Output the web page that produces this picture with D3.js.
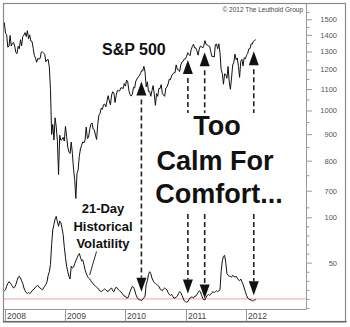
<!DOCTYPE html>
<html><head><meta charset="utf-8">
<script src="https://cdn.jsdelivr.net/npm/d3@7"></script>
<style>
html,body{margin:0;padding:0;background:#fff;}
svg{display:block;font-family:"Liberation Sans",Arial,sans-serif;}
</style></head>
<body>
<svg id="chart" width="350" height="327"></svg>
<script>
// S&P 500 weekly closes (Friday), grouped by year; first Friday of each block below
const spxStarts = ["2007-12-28","2008-01-04","2009-01-02","2010-01-01","2011-01-07","2012-01-06"];
const spx2007 = [1478];
const spx2008 = [1411,1401,1325,1331,1396,1332,1349,1353,1331,1294,1288,1330,1316,1370,1333,1390,1398,1414,1389,1426,1375,1400,1361,1360,1318,1278,1262,1239,1261,1257,1260,1296,1298,1292,1283,1242,1252,1255,1213,1099,899,940,877,968,930,873,752,896,876,879,887,873];
const spx2009 = [932,890,850,832,826,869,827,770,735,676,756,768,816,843,857,870,866,877,929,883,887,919,940,946,921,918,896,879,940,979,987,1010,1005,1026,1029,1016,1042,1068,1044,1025,1071,1087,1080,1036,1069,1093,1091,1091,1106,1106,1102,1127];
const spx2010 = [1115,1145,1136,1092,1074,1066,1075,1109,1105,1139,1150,1160,1167,1179,1194,1192,1217,1187,1111,1136,1088,1089,1065,1092,1117,1076,1023,1078,1065,1103,1102,1122,1079,1071,1065,1105,1110,1125,1149,1146,1166,1176,1183,1183,1225,1199,1199,1189,1225,1240,1244,1257,1258];
const spx2011 = [1272,1293,1283,1276,1310,1329,1343,1320,1321,1304,1279,1314,1332,1328,1320,1337,1364,1340,1338,1333,1331,1300,1271,1272,1268,1340,1344,1316,1345,1292,1199,1179,1124,1177,1174,1154,1216,1136,1099,1155,1224,1238,1285,1253,1263,1216,1159,1244,1255,1219,1265,1258];
const spx2012 = [1278,1289,1315,1316,1345,1343,1361,1366,1370];

// 21-day historical volatility (annualised %), same weekly dates
const vol2007 = [19];
const vol2008 = [20,24,27,29,28,26,24,22,23,26,30,34,35,33,30,27,22,19,17,16,17,16,17,19,20,21,23,24,25,23,22,21,20,22,24,26,29,36,40,48,70,86,92,98,101,95,90,96,94,88,81,67];
const vol2009 = [56,46,40,35,32,46,44,45,49,52,55,58,60,56,52,53,48,42,38,35,33,32,30,28,27,25,24,23,22,20,19,18,19,20,21,20,19,18,20,21,22,19,18,21,23,22,20,19,18,16,15,13];
const vol2010 = [13,11,11,14,18,21,24,23,20,15,12,10,9,9,8,10,11,13,26,30,37,40,38,33,30,28,27,26,25,24,21,20,19,21,22,21,20,17,15,14,15,13,11,11,12,13,16,18,17,14,11,8,7];
const vol2011 = [6.5,7,9,11,12,12,11,13,13,15,17,19,18,14,11,9,9,12,14,15,14,15,17,18,17,18,19,18,19,20,40,52,57,58,50,38,36,35,35,34,36,35,34,35,33,31,30,32,29,26,22,18];
const vol2012 = [14,11,10,9,9,8,8,9,9];

// axis ticks
const yearLabels = ["2008","2009","2010","2011","2012"];
const spxMajorTicks = [700,800,900,1000,1100,1200,1300,1400,1500];
const spxMinorTicks = [650,750,850,950,1050,1150,1250,1350,1450,1550];
const volMajorTicks = [50,100];
const volMinorTicks = [0,10,20,30,40,60,70,80,90];
const calmLevel = 10;

// arrow annotations: date, S&P level at the upper tip, volatility at the lower tip
const arrowDates = ["2010-04-08","2011-01-15","2011-04-27","2012-02-19"];
const arrowSpx = [1137,1252,1295,1301];
const arrowVol = [18,16,10.5,14];

const parse = d3.utcParse("%Y-%m-%d");
function weekly(start, values) {
  const s = parse(start);
  return values.map((v, i) => ({date: d3.utcDay.offset(s, 7 * i), value: v}));
}
const spxBlocks = [spx2007, spx2008, spx2009, spx2010, spx2011, spx2012];
const volBlocks = [vol2007, vol2008, vol2009, vol2010, vol2011, vol2012];
const spx = spxBlocks.flatMap((b, i) => weekly(spxStarts[i], b));
const vol = volBlocks.flatMap((b, i) => weekly(spxStarts[i], b));

const svg = d3.select("#chart");
const L = 4, R = 306, T = 4, B = 309, FB = 321.5;

const x = d3.scaleUtc()
  .domain([Date.UTC(2008, 0, 1), Date.UTC(2013, 0, 1)])
  .range([5, R]);
const ySpx = d3.scaleLog().domain([700, 1500]).range([190.7, 19.3]);
const yVol = d3.scaleLinear().domain([0, 100]).range([308, 217.3]);

// outer frame
svg.append("rect").attr("x", 3.5).attr("y", 3.5).attr("width", 342).attr("height", 318)
  .attr("fill", "#fff").attr("stroke", "#8a8a8a").attr("stroke-width", 1.2);
svg.append("line").attr("x1", 3).attr("x2", 346.5).attr("y1", 321.8).attr("y2", 321.8)
  .attr("stroke", "#666").attr("stroke-width", 1.6);

// plot bottom edge and year strip
svg.append("line").attr("x1", L).attr("x2", R).attr("y1", B + 0.5).attr("y2", B + 0.5)
  .attr("stroke", "#999").attr("stroke-width", 1);
const yearG = svg.append("g");
yearLabels.forEach(lbl => {
  const xx = Math.round(x(Date.UTC(+lbl, 0, 1))) + 0.5;
  yearG.append("line").attr("x1", xx).attr("x2", xx).attr("y1", B).attr("y2", FB)
    .attr("stroke", "#999").attr("stroke-width", 1);
  yearG.append("text").attr("x", xx + 1.5).attr("y", 319).text(lbl)
    .attr("font-size", 8.5).attr("fill", "#444");
});

// right axis
svg.append("line").attr("x1", R + 0.5).attr("x2", R + 0.5).attr("y1", T).attr("y2", B + 0.5)
  .attr("stroke", "#999").attr("stroke-width", 1);
function styleAxis(g, labelled) {
  g.select(".domain").remove();
  g.selectAll(".tick line").attr("stroke", "#999");
  if (labelled) {
    g.selectAll(".tick text").attr("x", 31).attr("text-anchor", "end")
      .attr("font-size", 7.5).attr("fill", "#555").attr("font-family", "Liberation Sans, Arial, sans-serif");
  } else {
    g.selectAll(".tick text").remove();
  }
}
svg.append("g").attr("transform", `translate(${R},0)`)
  .call(d3.axisRight(ySpx).tickValues(spxMajorTicks).tickSize(6).tickFormat(d3.format("d")))
  .call(g => styleAxis(g, true));
svg.append("g").attr("transform", `translate(${R},0)`)
  .call(d3.axisRight(ySpx).tickValues(spxMinorTicks).tickSize(3.5))
  .call(g => styleAxis(g, false));
svg.append("g").attr("transform", `translate(${R},0)`)
  .call(d3.axisRight(yVol).tickValues(volMajorTicks).tickSize(6).tickFormat(d3.format("d")))
  .call(g => styleAxis(g, true));
svg.append("g").attr("transform", `translate(${R},0)`)
  .call(d3.axisRight(yVol).tickValues(volMinorTicks).tickSize(3.5))
  .call(g => styleAxis(g, false));

// calm threshold
svg.append("line").attr("x1", L).attr("x2", R).attr("y1", yVol(calmLevel)).attr("y2", yVol(calmLevel))
  .attr("stroke", "#f2a3a3").attr("stroke-width", 1);

// series
const lineSpx = d3.line().x(d => x(d.date)).y(d => ySpx(d.value));
const lineVol = d3.line().x(d => x(d.date)).y(d => yVol(d.value));
svg.append("path").datum(spx).attr("d", lineSpx)
  .attr("fill", "none").attr("stroke", "#111").attr("stroke-width", 1).attr("stroke-linejoin", "round");
svg.append("path").datum(vol).attr("d", lineVol)
  .attr("fill", "none").attr("stroke", "#111").attr("stroke-width", 1).attr("stroke-linejoin", "round");

// titles
svg.append("text").attr("x", 102).attr("y", 55).text("S&P 500")
  .attr("font-size", 16).attr("font-weight", "bold").attr("fill", "#111");
svg.append("text").attr("x", 303).attr("y", 12).attr("text-anchor", "end").text("\u00a9 2012 The Leuthold Group")
  .attr("font-size", 6.5).attr("fill", "#444");

const volLabel = svg.append("text").attr("font-size", 13).attr("font-weight", "bold")
  .attr("fill", "#111").attr("text-anchor", "middle");
[["21-Day", 213], ["Historical", 231], ["Volatility", 248]].forEach(([t, yy]) =>
  volLabel.append("tspan").attr("x", 103).attr("y", yy).text(t));
const ptr = vol.find(d => +d.date >= Date.UTC(2009, 4, 29));
svg.append("line").attr("x1", 96.5).attr("y1", 251.5)
  .attr("x2", x(ptr.date)).attr("y2", yVol(ptr.value) - 4)
  .attr("stroke", "#111").attr("stroke-width", 0.9);

const calm = svg.append("g").attr("font-size", 27).attr("font-weight", "bold")
  .attr("fill", "#111").attr("text-anchor", "middle");
const calmLines = [["Too", 217, 135], ["Calm For", 215, 170], ["Comfort...", 219, 203]];
calmLines.forEach(([t, xx, yy]) => calm.append("text").attr("x", xx).attr("y", yy).text(t));
const cb = calm.node().getBBox();

// arrows: upward onto the S&P line, downward onto the volatility line
const AH = 14, AW = 5;
arrowDates.forEach((ds, i) => {
  const xx = x(parse(ds));
  const tTop = ySpx(arrowSpx[i]);
  const tBot = yVol(arrowVol[i]);
  svg.append("path").attr("d", `M${xx},${tTop}L${xx - AW},${tTop + AH}L${xx + AW},${tTop + AH}Z`).attr("fill", "#111");
  svg.append("path").attr("d", `M${xx},${tBot}L${xx - AW},${tBot - AH}L${xx + AW},${tBot - AH}Z`).attr("fill", "#111");
  const y0 = tTop + AH + 4, y1 = tBot - AH;
  let segs = [[y0, y1]];
  if (xx > cb.x && xx < cb.x + cb.width) segs = [[y0, cb.y + 2], [cb.y + cb.height + 5, y1]];
  segs.forEach(([a, b]) => svg.append("line").attr("x1", xx).attr("x2", xx).attr("y1", a).attr("y2", b)
    .attr("stroke", "#222").attr("stroke-width", 1.6).attr("stroke-dasharray", "5,3"));
});
</script>
</body></html>
